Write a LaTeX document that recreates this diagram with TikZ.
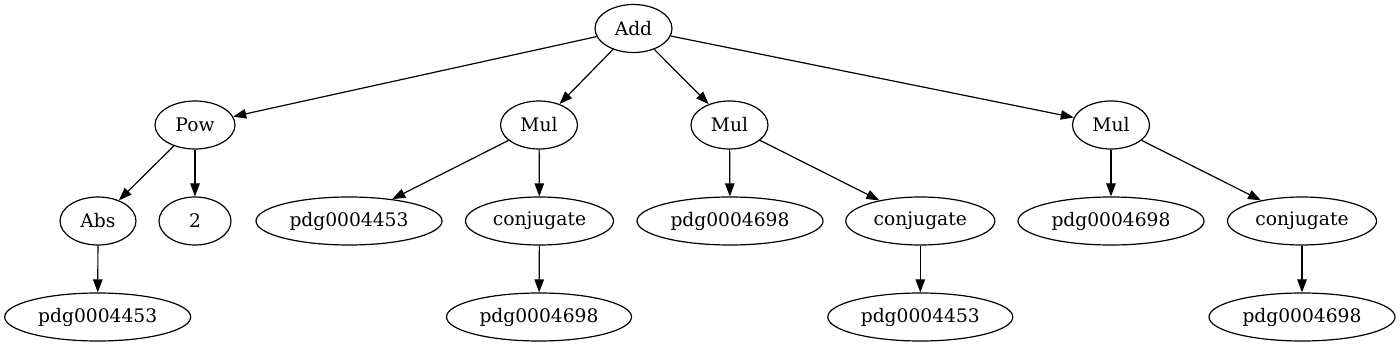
\documentclass[tikz,border=0pt]{standalone}
\usepackage{fontspec}
\setmainfont{DejaVu Serif}
\usetikzlibrary{shapes.geometric,arrows.meta}
\begin{document}
\begin{tikzpicture}[x=1pt,y=-1pt,
  nd/.style={draw,ellipse,inner sep=0pt,minimum height=48pt,line width=1.2pt,font=\fontsize{18.67pt}{22pt}\selectfont},
  ed/.style={-{Triangle[length=13pt,width=9.5pt]},line width=1.2pt}]
\useasboundingbox (0,0) rectangle (1400,347);
\node[nd,minimum width=77pt] (add) at (633.5,28.5) {Add};
\node[nd,minimum width=80pt] (pow) at (195,125) {Pow};
\node[nd,minimum width=77pt] (m1) at (539,125) {Mul};
\node[nd,minimum width=77pt] (m2) at (729.5,125) {Mul};
\node[nd,minimum width=77pt] (m3) at (1111,125) {Mul};
\node[nd,minimum width=76pt] (abs) at (98,221) {Abs};
\node[nd,minimum width=72pt] (two) at (195,221) {2};
\node[nd,minimum width=186pt] (p1) at (349,221) {pdg0004453};
\node[nd,minimum width=148pt] (c1) at (539.5,221) {conjugate};
\node[nd,minimum width=186pt] (p2) at (730,221) {pdg0004698};
\node[nd,minimum width=149pt] (c2) at (920.3,221) {conjugate};
\node[nd,minimum width=186pt] (p3) at (1111,221) {pdg0004698};
\node[nd,minimum width=149pt] (c3) at (1302,221) {conjugate};
\node[nd,minimum width=186pt] (q0) at (97.7,317) {pdg0004453};
\node[nd,minimum width=185pt] (q1) at (539,317) {pdg0004698};
\node[nd,minimum width=185pt] (q2) at (920.3,317) {pdg0004453};
\node[nd,minimum width=186pt] (q3) at (1302,317) {pdg0004698};
\draw[ed] (add) -- (pow);
\draw[ed] (add) -- (m1);
\draw[ed] (add) -- (m2);
\draw[ed] (add) -- (m3);
\draw[ed] (pow) -- (abs);
\draw[ed] (pow) -- (two);
\draw[ed] (m1) -- (p1);
\draw[ed] (m1) -- (c1);
\draw[ed] (m2) -- (p2);
\draw[ed] (m2) -- (c2);
\draw[ed] (m3) -- (p3);
\draw[ed] (m3) -- (c3);
\draw[ed] (abs) -- (q0);
\draw[ed] (c1) -- (q1);
\draw[ed] (c2) -- (q2);
\draw[ed] (c3) -- (q3);
\end{tikzpicture}
\end{document}
